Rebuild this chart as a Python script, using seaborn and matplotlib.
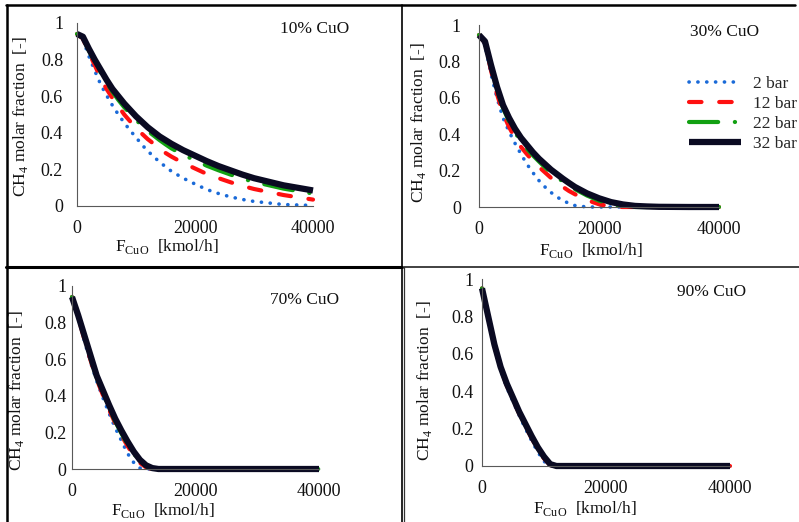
import pandas as pd
import matplotlib
matplotlib.use("Agg")
import matplotlib.pyplot as plt
import seaborn as sns
from matplotlib.lines import Line2D

# CuO molar flow [kmol/h]
f_cuo = [0, 1000, 2000, 3000, 4000, 5000, 6000, 7000, 8000, 9000, 10000, 11000, 12000,
         13000, 14000, 15000, 16000, 18000, 20000, 22000, 24000, 26000, 28000, 30000,
         35000, 40000]

pressures = ["2 bar", "12 bar", "22 bar", "32 bar"]
panel_titles = ["10% CuO", "30% CuO", "70% CuO", "90% CuO"]

# CH4 molar fraction, 10% CuO
cuo10_2bar = [0.94, 0.91, 0.82, 0.74, 0.665, 0.605, 0.55, 0.50, 0.455, 0.413, 0.375, 0.335, 0.30,
              0.27, 0.24, 0.215, 0.19, 0.152, 0.12, 0.09, 0.068, 0.05, 0.036, 0.025, 0.008, 0.003]
cuo10_12bar = [0.94, 0.915, 0.84, 0.77, 0.70, 0.64, 0.59, 0.545, 0.50, 0.463, 0.43, 0.395, 0.365,
               0.34, 0.315, 0.29, 0.27, 0.235, 0.205, 0.175, 0.152, 0.13, 0.11, 0.093, 0.06, 0.035]
cuo10_22bar = [0.94, 0.92, 0.85, 0.79, 0.73, 0.675, 0.625, 0.58, 0.54, 0.505, 0.47, 0.44, 0.41,
               0.385, 0.36, 0.337, 0.315, 0.28, 0.25, 0.22, 0.195, 0.172, 0.15, 0.132, 0.095, 0.068]
cuo10_32bar = [0.94, 0.925, 0.86, 0.80, 0.745, 0.69, 0.64, 0.60, 0.56, 0.525, 0.49, 0.46, 0.43,
               0.405, 0.38, 0.36, 0.34, 0.305, 0.275, 0.245, 0.218, 0.195, 0.172, 0.152, 0.113, 0.085]

# 30% CuO
cuo30_2bar = [0.945, 0.89, 0.73, 0.60, 0.49, 0.415, 0.35, 0.29, 0.235, 0.188, 0.145, 0.11, 0.08,
              0.055, 0.035, 0.02, 0.008, 0, 0, 0, 0, 0, 0, 0, 0, 0]
cuo30_12bar = [0.945, 0.90, 0.75, 0.62, 0.515, 0.44, 0.38, 0.33, 0.29, 0.253, 0.22, 0.19, 0.16,
               0.133, 0.11, 0.088, 0.07, 0.038, 0.015, 0.003, 0, 0, 0, 0, 0, 0]
cuo30_22bar = [0.945, 0.905, 0.77, 0.645, 0.545, 0.47, 0.41, 0.36, 0.32, 0.283, 0.25, 0.218, 0.19,
               0.163, 0.14, 0.118, 0.098, 0.063, 0.035, 0.015, 0.004, 0, 0, 0, 0, 0]
cuo30_32bar = [0.945, 0.91, 0.78, 0.66, 0.56, 0.49, 0.43, 0.38, 0.34, 0.30, 0.265, 0.235, 0.205,
               0.18, 0.155, 0.132, 0.11, 0.075, 0.048, 0.027, 0.014, 0.006, 0.003, 0.001, 0, 0]

# 70% CuO
cuo70_2bar = [0.94, 0.83, 0.70, 0.585, 0.48, 0.39, 0.305, 0.225, 0.155, 0.085, 0.035, 0.005, 0,
              0, 0, 0, 0, 0, 0, 0, 0, 0, 0, 0, 0, 0]
cuo70_12bar = [0.94, 0.83, 0.71, 0.595, 0.49, 0.405, 0.325, 0.25, 0.185, 0.125, 0.075, 0.033, 0.009,
               0, 0, 0, 0, 0, 0, 0, 0, 0, 0, 0, 0, 0]
cuo70_22bar = [0.94, 0.835, 0.72, 0.605, 0.50, 0.415, 0.335, 0.26, 0.195, 0.135, 0.085, 0.04, 0.013,
               0.002, 0, 0, 0, 0, 0, 0, 0, 0, 0, 0, 0, 0]
cuo70_32bar = [0.94, 0.84, 0.73, 0.62, 0.51, 0.43, 0.35, 0.275, 0.21, 0.15, 0.095, 0.05, 0.02,
               0.005, 0, 0, 0, 0, 0, 0, 0, 0, 0, 0, 0, 0]

# 90% CuO
cuo90_2bar = [0.95, 0.79, 0.635, 0.515, 0.42, 0.345, 0.27, 0.20, 0.135, 0.075, 0.025, 0, 0,
              0, 0, 0, 0, 0, 0, 0, 0, 0, 0, 0, 0, 0]
cuo90_12bar = [0.95, 0.795, 0.642, 0.522, 0.43, 0.355, 0.28, 0.213, 0.15, 0.09, 0.04, 0.005, 0,
               0, 0, 0, 0, 0, 0, 0, 0, 0, 0, 0, 0, 0]
cuo90_22bar = [0.95, 0.798, 0.647, 0.527, 0.435, 0.36, 0.285, 0.22, 0.155, 0.095, 0.045, 0.008, 0,
               0, 0, 0, 0, 0, 0, 0, 0, 0, 0, 0, 0, 0]
cuo90_32bar = [0.95, 0.80, 0.65, 0.53, 0.44, 0.365, 0.29, 0.225, 0.16, 0.10, 0.05, 0.01, 0,
               0, 0, 0, 0, 0, 0, 0, 0, 0, 0, 0, 0, 0]

panels = [
    [cuo10_2bar, cuo10_12bar, cuo10_22bar, cuo10_32bar],
    [cuo30_2bar, cuo30_12bar, cuo30_22bar, cuo30_32bar],
    [cuo70_2bar, cuo70_12bar, cuo70_22bar, cuo70_32bar],
    [cuo90_2bar, cuo90_12bar, cuo90_22bar, cuo90_32bar],
]

W, H = 799, 522
sns.set_style("white")
plt.rcParams["font.family"] = ["Liberation Serif", "DejaVu Serif"]
plt.rcParams["mathtext.fontset"] = "custom"
plt.rcParams["mathtext.rm"] = "Liberation Serif"

line_styles = {
    "2 bar": dict(color="#1a6ad8", lw=2.6, linestyle=(0, (0.05, 2.4)), dash_capstyle="round"),
    "12 bar": dict(color="#ff1010", lw=3.0, linestyle=(0, (3, 4.25)), dash_capstyle="round"),
    "22 bar": dict(color="#12a012", lw=3.0, linestyle=(0, (7, 4, 0.05, 4)), dash_capstyle="round"),
    "32 bar": dict(color="#0a0a22", lw=4.5, linestyle="-", solid_capstyle="butt"),
}

# pixel boxes of the four plot areas: left, right, top, bottom
boxes = [(77, 313, 23, 206), (479, 719, 25, 207), (72, 319, 286, 469), (482, 730, 279, 466)]
title_pos = [(315, 29), (725, 32), (305, 300), (712, 292)]
ylabel_pos = [(21, 117), (418, 123), (17, 391), (425, 381)]
xlabel_pos = [(167, 246), (591, 251), (163, 510), (585, 509)]
ytick_pad = [7, 10, 1, 3]

fig = plt.figure(figsize=(W / 100, H / 100), dpi=100)

for i, (l, r, t, b) in enumerate(boxes):
    ax = fig.add_axes([l / W, 1 - b / H, (r - l) / W, (b - t) / H])
    for p, vals in zip(pressures, panels[i]):
        sns.lineplot(x=f_cuo, y=vals, ax=ax, label=p, legend=False, clip_on=False, **line_styles[p])
    ax.set_xlim(0, 40000)
    ax.set_ylim(0, 1)
    ax.set_xticks([0, 20000, 40000])
    ax.set_xticklabels(["0", "20000", "40000"])
    ax.set_yticks([0, 0.2, 0.4, 0.6, 0.8, 1])
    ax.set_yticklabels(["0", "0.2", "0.4", "0.6", "0.8", "1"])
    ax.tick_params(direction="out", length=3, width=0.8, color="#595959",
                   labelsize=13, labelcolor="#111111")
    ax.tick_params(axis="y", pad=ytick_pad[i])
    ax.tick_params(axis="x", pad=7)
    sns.despine(ax=ax)
    for s in ["left", "bottom"]:
        ax.spines[s].set_color("#595959")
        ax.spines[s].set_linewidth(0.8)
    ax.patch.set_alpha(0)

    ax.set_ylabel(r"CH$_\mathregular{4}$ molar fraction  [-]", fontsize=12.5, color="#111111",
                  ha="center", va="center")
    ax.yaxis.set_label_coords((ylabel_pos[i][0] - l) / (r - l), (b - ylabel_pos[i][1]) / (b - t))
    ax.set_xlabel(r"F$_\mathregular{CuO}$  [kmol/h]", fontsize=12.5, color="#111111",
                  ha="center", va="center")
    ax.xaxis.set_label_coords((xlabel_pos[i][0] - l) / (r - l), (b - xlabel_pos[i][1]) / (b - t))

    fig.text(title_pos[i][0] / W, 1 - title_pos[i][1] / H, panel_titles[i],
             fontsize=12.5, ha="center", va="center", color="#111111")

    if i == 1:
        ax.legend(loc="upper left", bbox_to_anchor=(689 / W, 1 - 76 / H),
                  bbox_transform=fig.transFigure, frameon=False, fontsize=12.5,
                  handlelength=3.0, handletextpad=0.7, labelspacing=0.22,
                  borderpad=0, borderaxespad=0)


# panel frame lines
def frame_line(x0, y0, x1, y1, lw, color="black"):
    fig.add_artist(Line2D([x0 / W, x1 / W], [1 - y0 / H, 1 - y1 / H],
                          transform=fig.transFigure, lw=lw, color=color))


frame_line(6, 5.3, 795, 5.3, 1.8)
frame_line(7, 5, 7, 522, 1.8)
frame_line(402, 5, 402, 522, 1.2)
frame_line(404, 267, 404, 522, 0.9, "#333333")
frame_line(6, 267, 402, 267, 2.2)
frame_line(404, 266.5, 799, 266.5, 1.3, "#333333")

fig.savefig("out.png", dpi=100)
